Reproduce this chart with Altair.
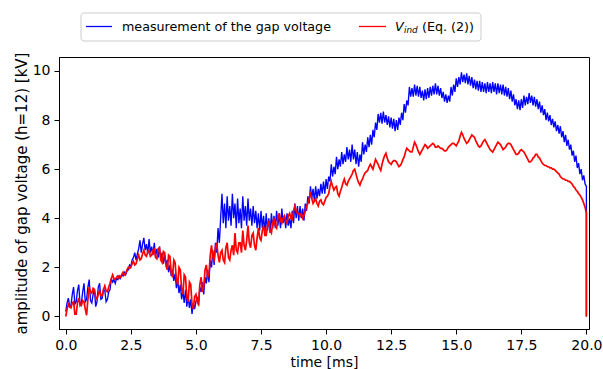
import altair as alt
import pandas as pd

blue_kv = [
    # 0.00 - 0.95
    0.2, 0.55, 0.75, 0.4, 0.45, 0.9, 1.2, 0.5, 0.6, 1.05, 1.3, 0.45, 0.55, 1.0, 1.35, 0.6, 0.7, 1.2, 1.5, 0.65,
    # 1.00 - 1.95
    0.55, 0.9, 1.1, 0.4, 0.6, 1.2, 1.35, 0.7, 0.75, 1.1, 1.05, 0.6, 0.7, 1.0, 1.1, 1.55, 1.4, 1.5, 1.35, 1.55,
    # 2.00 - 2.95
    1.5, 1.65, 1.55, 1.7, 1.65, 1.8, 1.7, 1.85, 1.9, 2.1, 2.05, 2.3, 2.4, 2.6, 2.3, 2.55, 2.75, 3.1, 2.6, 2.95,
    # 3.00 - 3.95
    3.2, 2.7, 2.95, 2.55, 3.15, 2.6, 2.85, 2.5, 3.0, 2.45, 2.75, 2.4, 2.85, 2.3, 2.6, 2.15, 2.5, 2.1, 2.3, 1.8,
    # 4.00 - 4.95
    2.1, 1.65, 1.9, 1.45, 1.75, 1.15, 1.5, 0.95, 1.3, 0.7, 1.05, 0.55, 1.1, 0.4, 0.85, 0.35, 0.7, 0.1, 0.55, 0.3,
    # 5.00 - 5.95
    0.6, 0.8, 0.45, 1.2, 1.0, 1.4, 0.9, 1.6, 1.35, 1.9, 1.4, 2.3, 2.0, 2.7, 2.1, 3.0, 2.6, 3.6, 3.0, 4.0,
    # 6.00 - 6.95
    5.0, 3.8, 4.6, 3.6, 4.9, 3.9, 4.5, 3.7, 5.0, 4.0, 4.6, 3.6, 4.8, 3.8, 4.4, 3.6, 4.9, 3.9, 4.5, 3.7,
    # 7.00 - 7.95
    4.8, 3.9, 4.4, 3.7, 4.5, 3.8, 4.3, 3.6, 4.2, 3.5, 4.3, 3.6, 4.1, 3.4, 4.2, 3.5, 4.0, 3.4, 4.2, 3.6,
    # 8.00 - 8.95
    4.1, 3.6, 4.3, 3.7, 4.2, 3.6, 4.4, 3.8, 4.1, 3.6, 4.2, 3.7, 4.0, 3.6, 4.3, 3.8, 4.6, 4.0, 4.5, 3.9,
    # 9.00 - 9.95
    4.5, 4.0, 4.4, 3.9, 4.6, 4.3, 4.9, 4.6, 5.3, 4.8, 5.2, 4.7, 5.3, 4.8, 5.2, 4.9, 5.4, 5.0, 5.5, 5.0,
    # 10.00 - 10.95
    5.6, 5.2, 5.7, 5.5, 6.2, 5.7, 6.1, 5.8, 6.5, 6.0, 6.4, 6.1, 6.7, 6.2, 6.6, 6.3, 6.9, 6.4, 6.8, 6.3,
    # 11.00 - 11.95
    7.0, 6.4, 6.8, 6.2, 6.7, 6.1, 6.6, 6.3, 7.1, 6.6, 7.0, 6.7, 7.3, 6.9, 7.4, 7.0, 7.6, 7.3, 7.9, 7.6,
    # 12.00 - 12.95
    8.25, 7.9, 8.3, 7.85, 8.35, 7.9, 8.2, 7.8, 8.15, 7.7, 8.1, 7.65, 8.05, 7.55, 8.0, 7.6, 8.1, 7.8, 8.3, 8.0,
    # 13.00 - 13.95
    8.65, 8.3, 8.8, 8.6, 9.35, 8.95, 9.3, 8.95, 9.45, 9.0, 9.4, 8.95, 9.35, 8.9, 9.2, 8.8, 9.25, 8.85, 9.3, 8.9,
    # 14.00 - 14.95
    9.35, 9.0, 9.4, 9.05, 9.5, 9.05, 9.4, 9.0, 9.3, 8.9, 9.15, 8.75, 9.05, 8.7, 9.0, 8.75, 9.35, 9.0, 9.45, 9.15,
    # 15.00 - 15.95
    9.7, 9.35, 9.75, 9.45, 9.95, 9.55, 9.85, 9.5, 9.9, 9.45, 9.8, 9.4, 9.75, 9.3, 9.65, 9.25, 9.6, 9.2, 9.6, 9.15,
    # 16.00 - 16.95
    9.55, 9.15, 9.5, 9.1, 9.55, 9.15, 9.5, 9.1, 9.55, 9.15, 9.5, 9.05, 9.5, 9.1, 9.45, 9.05, 9.45, 9.0, 9.35, 8.95,
    # 17.00 - 17.95
    9.3, 8.85, 9.2, 8.75, 9.05, 8.6, 8.85, 8.45, 8.8, 8.4, 8.85, 8.5, 9.0, 8.6, 8.95, 8.65, 9.1, 8.7, 9.0, 8.6,
    # 18.00 - 18.95
    8.95, 8.55, 8.85, 8.45, 8.75, 8.3, 8.6, 8.2, 8.45, 8.0, 8.3, 7.95, 8.2, 7.8, 8.05, 7.7, 7.95, 7.55, 7.8, 7.45,
    # 19.00 - 19.95
    7.75, 7.3, 7.55, 7.1, 7.4, 6.95, 7.2, 6.8, 7.0, 6.55, 6.75, 6.3, 6.55, 6.05, 6.25, 5.8, 6.0, 5.55, 5.75, 5.4,
    # 20.00
    5.3,
]
red_kv = [
    # 0.00 - 0.95
    0.0, 0.3, 0.5, 0.4, 0.35, 0.55, 0.6, 0.1, 0.1, 0.55, 0.75, 0.5, 0.45, 0.65, 0.6, 0.3, 0.05, 0.7, 1.2, 1.0,
    # 1.00 - 1.95
    0.95, 1.15, 1.1, 0.8, 0.7, 0.9, 1.05, 0.85, 0.85, 1.1, 1.25, 1.05, 1.0, 1.2, 1.35, 1.55, 1.7, 1.55, 1.5, 1.6,
    # 2.00 - 2.95
    1.65, 1.55, 1.6, 1.7, 1.8, 1.7, 1.75, 1.9, 2.0, 1.95, 2.0, 2.15, 2.25, 2.1, 2.15, 2.35, 2.5, 2.3, 2.35, 2.55,
    # 3.00 - 3.95
    2.7, 2.5, 2.45, 2.65, 2.7, 2.45, 2.5, 2.7, 2.75, 2.4, 2.35, 2.75, 2.8, 2.3, 2.2, 2.65, 2.6, 2.05, 1.9, 2.5,
    # 4.00 - 4.95
    2.45, 1.8, 1.6, 2.3, 2.2, 1.5, 1.3, 2.0, 1.9, 1.1, 0.9, 1.7, 1.6, 0.8, 0.6, 1.4, 1.3, 0.5, 0.3, 0.8,
    # 5.00 - 5.95
    0.9, 0.6, 0.5, 1.3, 1.6, 1.0, 1.2, 1.9, 2.1, 1.6, 1.7, 2.5, 2.9, 2.4, 2.3, 2.8, 3.0, 2.5, 2.2, 2.6,
    # 6.00 - 6.95
    2.7, 2.3, 2.2, 2.8, 3.0, 2.4, 2.3, 2.7, 2.9, 2.5, 3.4, 2.7, 2.6, 3.0, 3.0, 2.6, 3.5, 2.9, 2.7, 3.1,
    # 7.00 - 7.95
    3.7, 3.0, 2.8, 3.3, 3.4, 2.9, 2.7, 3.2, 3.6, 3.2, 3.1, 3.5, 3.7, 3.3, 3.3, 3.7, 3.9, 3.5, 3.4, 3.8,
    # 8.00 - 8.95
    4.0, 3.7, 3.6, 4.0, 4.2, 3.9, 3.8, 4.0, 4.1, 3.9, 3.8, 4.1, 4.2, 4.0, 3.95, 4.3, 4.5, 4.3, 4.2, 4.2,
    # 9.00 - 9.95
    4.1, 4.2, 4.0, 4.1, 4.3, 4.5, 4.6, 4.8, 5.0, 4.8, 4.6, 4.7, 4.8, 4.6, 4.5, 4.7, 4.75, 4.6, 4.55, 4.7,
    # 10.00 - 10.95
    4.85, 4.9, 5.0, 5.3, 5.5, 5.3, 5.15, 5.25, 5.3, 5.0, 4.9, 5.1, 5.25, 5.45, 5.6, 5.4, 5.35, 5.5, 5.6, 5.7,
    # 11.00 - 11.95
    5.8, 5.95, 6.0, 5.8, 5.6, 5.45, 5.35, 5.5, 5.6, 5.75, 5.85, 5.9, 5.95, 6.1, 6.2, 6.1, 6.0, 6.2, 6.4, 6.3,
    # 12.00 - 12.95
    6.2, 6.05, 5.95, 6.2, 6.4, 6.55, 6.65, 6.45, 6.3, 6.25, 6.2, 6.3, 6.35, 6.35, 6.3, 6.2, 6.1, 6.15, 6.25, 6.4,
    # 13.00 - 13.95
    6.5, 6.7, 6.85, 6.8, 6.75, 6.7, 6.7, 6.9, 7.1, 7.0, 6.85, 6.7, 6.6, 6.7, 6.8, 6.9, 7.0, 6.95, 6.85, 6.9,
    # 14.00 - 14.95
    6.95, 7.0, 7.05, 7.0, 6.9, 6.9, 6.95, 6.9, 6.85, 6.85, 6.8, 6.75, 6.75, 6.8, 6.9, 6.95, 7.0, 7.05, 7.05, 7.0,
    # 15.00 - 15.95
    6.95, 7.05, 7.15, 7.35, 7.5, 7.4, 7.25, 7.15, 7.05, 7.1, 7.2, 7.3, 7.4, 7.35, 7.3, 7.15, 7.05, 6.95, 6.9, 6.95,
    # 16.00 - 16.95
    7.05, 7.15, 7.2, 7.1, 7.0, 6.9, 6.8, 6.75, 6.7, 6.8, 6.9, 7.0, 7.1, 7.05, 7.0, 6.9, 6.8, 6.85, 6.9, 7.0,
    # 17.00 - 17.95
    7.05, 7.05, 7.0, 6.9, 6.8, 6.7, 6.6, 6.6, 6.65, 6.75, 6.8, 6.75, 6.7, 6.6, 6.5, 6.4, 6.3, 6.3, 6.35, 6.45,
    # 18.00 - 18.95
    6.5, 6.6, 6.6, 6.5, 6.45, 6.35, 6.25, 6.2, 6.15, 6.15, 6.1, 6.1, 6.05, 6.05, 6.0, 6.0, 5.95, 5.9, 5.85, 5.8,
    # 19.00 - 19.95
    5.7, 5.65, 5.6, 5.6, 5.55, 5.55, 5.5, 5.5, 5.45, 5.4, 5.3, 5.25, 5.15, 5.1, 5.0, 4.95, 4.85, 4.75, 4.6, 4.45,
    # 20.00
    4.2,
]
end_drop_kv = 0.0      # both traces fall to zero at t = 20 ms
end_time_ms = 20.0
sample_step_ms = 0.05
series_names = ["measurement of the gap voltage", "V_ind (Eq. (2))"]
series_colors = ["#0000ff", "#ff0000"]
x_ticks = [0, 2.5, 5, 7.5, 10, 12.5, 15, 17.5, 20]
y_ticks = [0, 2, 4, 6, 8, 10]


def frame(name, vals):
    times = [round(i * sample_step_ms, 2) for i in range(len(vals))] + [end_time_ms]
    full = vals + [end_drop_kv]
    return pd.DataFrame({"series": name, "t": times, "v": full, "idx": list(range(len(full)))})


df_blue = frame(series_names[0], blue_kv)
df_red = frame(series_names[1], red_kv)

xenc = alt.X("t:Q", scale=alt.Scale(domain=[-0.26, 20.1], nice=False, zero=False),
             axis=alt.Axis(values=x_ticks, format=".1f", title="time [ms]"))
yenc = alt.Y("v:Q", scale=alt.Scale(domain=[-0.51, 10.57], nice=False, zero=False),
             axis=alt.Axis(values=y_ticks, format="d", title="amplitude of gap voltage (h=12) [kV]",
                           titleFontSize=15, titlePadding=3))

blue_line = alt.Chart(df_blue).mark_line(strokeWidth=1.35, clip=True, color=series_colors[0]).encode(
    x=xenc, y=yenc, order="idx:Q")
red_line = alt.Chart(df_red).mark_line(strokeWidth=1.7, clip=True, color=series_colors[1]).encode(
    x="t:Q", y="v:Q", order="idx:Q")

one = pd.DataFrame({"k": [0]})
FONT = "DejaVu Sans"
LFS = 12.7
ly = -30.5

box = alt.Chart(one).mark_rect(fill="white", stroke="#cccccc", strokeWidth=1, cornerRadius=3).encode(
    x=alt.value(22), x2=alt.value(422), y=alt.value(-44), y2=alt.value(-16))
rule_b = alt.Chart(one).mark_rule(color=series_colors[0], strokeWidth=1.3).encode(
    x=alt.value(27), x2=alt.value(53), y=alt.value(ly))
rule_r = alt.Chart(one).mark_rule(color=series_colors[1], strokeWidth=1.3).encode(
    x=alt.value(300), x2=alt.value(327), y=alt.value(ly))
txt_b = alt.Chart(one).mark_text(text=series_names[0], align="left", baseline="middle",
                                 fontSize=LFS, font=FONT, color="black").encode(
    x=alt.value(63), y=alt.value(ly))
txt_v = alt.Chart(one).mark_text(text="V", align="left", baseline="middle", fontStyle="italic",
                                 fontSize=LFS, font=FONT, color="black").encode(
    x=alt.value(336), y=alt.value(ly))
txt_ind = alt.Chart(one).mark_text(text="ind", align="left", baseline="middle", fontStyle="italic",
                                   fontSize=8.9, font=FONT, color="black").encode(
    x=alt.value(345), y=alt.value(ly + 3.5))
txt_eq = alt.Chart(one).mark_text(text="(Eq. (2))", align="left", baseline="middle",
                                  fontSize=LFS, font=FONT, color="black").encode(
    x=alt.value(363), y=alt.value(ly))

chart = alt.layer(blue_line, red_line, box, rule_b, rule_r, txt_b, txt_v, txt_ind, txt_eq).properties(
    width=530, height=272,
    autosize=alt.AutoSizeParams(type="none"),
    padding={"left": 59, "top": 57, "right": 14, "bottom": 40},
    background="white",
).configure_view(stroke="black", strokeWidth=1).configure_axis(
    grid=False, domainColor="black", tickColor="black", tickSize=5, tickWidth=1, domainWidth=1,
    labelFontSize=14, titleFontSize=14, labelFont=FONT, titleFont=FONT, titleFontWeight="normal",
    labelColor="black", titleColor="black", labelPadding=4, labelFlush=False, labelOverlap=False,
).configure_axisX(titlePadding=3)

chart.save("out.html", embed_options={"renderer": "svg", "actions": False})
